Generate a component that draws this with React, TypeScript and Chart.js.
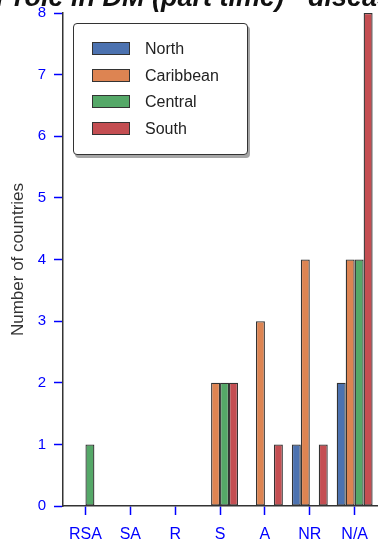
import React, { useEffect, useRef } from 'react';
import { Chart, registerables } from 'chart.js';

Chart.register(...registerables);

const categories = ['RSA', 'SA', 'R', 'S', 'A', 'NR', 'N/A'];
const seriesNames = ['North', 'Caribbean', 'Central', 'South'];
const north = [0, 0, 0, 0, 0, 1, 2];
const caribbean = [0, 0, 0, 2, 3, 4, 4];
const central = [1, 0, 0, 2, 0, 0, 4];
const south = [0, 0, 0, 2, 1, 1, 8];
const seriesValues = [north, caribbean, central, south];
const seriesColors = ['#4C72B0', '#DD8452', '#55A868', '#C44E52'];
const yMin = 0;
const yMax = 8;
const yStep = 1;
const titleText = 'Educator role in DM (part time) - disease area';
const yAxisTitle = 'Number of countries';

const FONT = '"Liberation Sans", Arial, Helvetica, sans-serif';
const CANVAS_W = 378;
const CANVAS_H = 560;
const CANVAS_TOP = -20;

const titlePlugin = {
  id: 'clippedTitle',
  afterDraw(chart: any) {
    const ctx = chart.ctx;
    ctx.save();
    ctx.font = `italic bold 27px ${FONT}`;
    ctx.fillStyle = '#111';
    ctx.textBaseline = 'alphabetic';
    ctx.textAlign = 'left';
    const prefix = titleText.slice(0, titleText.indexOf('('));
    const x = 152 - ctx.measureText(prefix).width;
    ctx.fillText(titleText, x, 26);
    ctx.restore();
  },
};

export default function App() {
  const ref = useRef<HTMLCanvasElement | null>(null);

  useEffect(() => {
    if (!ref.current) return;
    const chart = new Chart(ref.current, {
      type: 'bar',
      data: {
        labels: categories,
        datasets: seriesNames.map((name, i) => ({
          label: name,
          data: seriesValues[i].map((v) => (v === 0 ? null : v)),
          backgroundColor: seriesColors[i],
          borderColor: '#333333',
          borderWidth: 1.3,
          borderSkipped: false,
          categoryPercentage: 0.8,
          barPercentage: 1.0,
        })),
      },
      options: {
        animation: false,
        responsive: false,
        maintainAspectRatio: false,
        layout: { padding: { top: 33, left: 0, right: 0, bottom: 0 } },
        plugins: {
          legend: { display: false },
          title: { display: false },
          tooltip: { enabled: false },
        },
        scales: {
          x: {
            type: 'category',
            offset: true,
            grid: {
              offset: false,
              drawOnChartArea: false,
              drawTicks: true,
              tickLength: 9,
              tickColor: '#0000ff',
              tickWidth: 1.5,
            },
            border: { color: '#333333', width: 1.5 },
            ticks: {
              color: '#0000ff',
              font: { family: FONT, size: 16 },
              padding: 10,
              maxRotation: 0,
              autoSkip: false,
            },
            afterFit: (axis: any) => {
              axis.height = 34;
            },
          },
          y: {
            min: yMin,
            max: yMax,
            grid: {
              drawOnChartArea: false,
              drawTicks: true,
              tickLength: 9,
              tickColor: '#0000ff',
              tickWidth: 1.5,
            },
            border: { color: '#333333', width: 1.5 },
            ticks: {
              stepSize: yStep,
              color: '#0000ff',
              font: { family: FONT, size: 15 },
              padding: 8,
            },
            title: {
              display: true,
              text: yAxisTitle,
              color: '#333333',
              font: { family: FONT, size: 17 },
              padding: { top: 8, bottom: 0 },
            },
            afterFit: (axis: any) => {
              axis.width = 63;
            },
          },
        },
      },
      plugins: [titlePlugin],
    });
    return () => chart.destroy();
  }, []);

  const rowStart = 25;
  const rowGap = 26.5;

  return (
    <div>
      <div
        style={{
          position: 'fixed',
          left: 0,
          top: CANVAS_TOP,
          width: CANVAS_W,
          height: CANVAS_H,
        }}
      >
        <canvas ref={ref} width={CANVAS_W} height={CANVAS_H} style={{ display: 'block' }} />
      </div>
      <div
        style={{
          position: 'fixed',
          left: 73,
          top: 23,
          width: 175,
          height: 132,
          boxSizing: 'border-box',
          border: '1.5px solid #333',
          borderRadius: 4,
          background: '#fff',
          boxShadow: '2px 3px 0 rgba(0,0,0,0.35)',
          fontFamily: FONT,
        }}
      >
        {seriesNames.map((name, i) => (
          <div key={name}>
            <div
              style={{
                position: 'absolute',
                left: 18,
                top: rowStart + i * rowGap - 7,
                width: 38,
                height: 13,
                boxSizing: 'border-box',
                background: seriesColors[i],
                border: '1.5px solid #333',
              }}
            />
            <div
              style={{
                position: 'absolute',
                left: 71,
                top: rowStart + i * rowGap - 10,
                height: 20,
                lineHeight: '20px',
                fontSize: 16,
                color: '#222',
                whiteSpace: 'nowrap',
              }}
            >
              {name}
            </div>
          </div>
        ))}
      </div>
    </div>
  );
}
